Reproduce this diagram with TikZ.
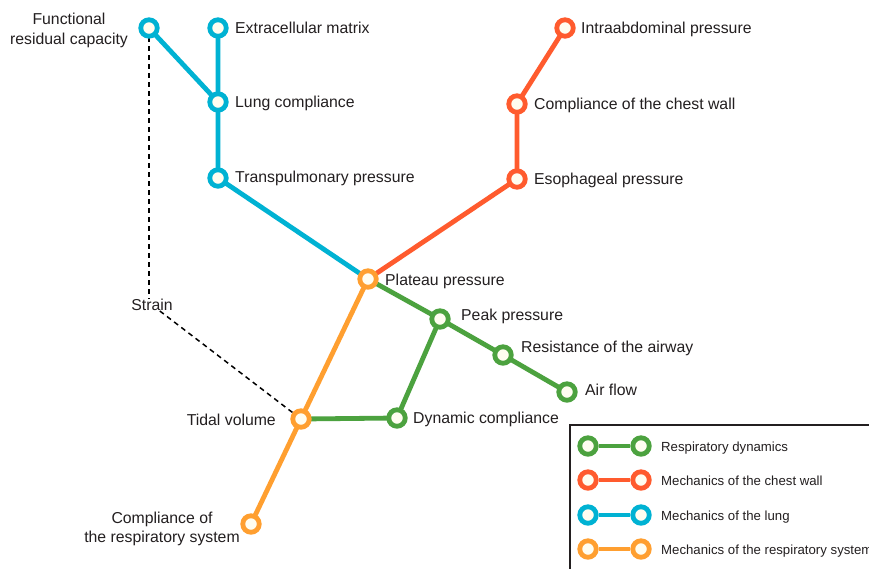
\documentclass[tikz,border=0pt]{standalone}
\usepackage{fontspec}
\setmainfont{Liberation Sans}
\usetikzlibrary{backgrounds}
\definecolor{cgreen}{HTML}{4CA23F}
\definecolor{cred}{HTML}{FF5B2E}
\definecolor{cblue}{HTML}{00B2D3}
\definecolor{corange}{HTML}{FF9F30}
\definecolor{cream}{HTML}{FFFDF0}
\definecolor{ink}{HTML}{231F20}
\begin{document}
\begin{tikzpicture}[x=1pt,y=-1pt,
  station/.style={circle,draw=#1,line width=4.8pt,fill=cream,minimum size=16.5pt,inner sep=0pt},
  route/.style={draw=#1,line width=4.8pt},
  lbl/.style={font=\fontsize{15.8}{19.5}\selectfont,text=ink,inner sep=0pt},
  lblr/.style={lbl,anchor=base west},
  leg/.style={font=\fontsize{13.2}{16}\selectfont,text=ink,inner sep=0pt,anchor=base west},
  link/.style={draw=black,line width=1.5pt,dash pattern=on 5pt off 4pt}]
\path[use as bounding box] (0,0) rectangle (869,568);
\clip (0,0) rectangle (869,568);

% stations
\node[station=cblue] (frc) at (149,28) {};
\node[station=cblue] (ecm) at (218,28) {};
\node[station=cblue] (lc) at (218,102) {};
\node[station=cblue] (tp) at (218,178) {};
\node[station=corange] (pp) at (368,279) {};
\node[station=cred] (iap) at (565,28) {};
\node[station=cred] (ccw) at (517,104) {};
\node[station=cred] (ep) at (517,179) {};
\node[station=cgreen] (pk) at (440,319) {};
\node[station=cgreen] (raw) at (503,355) {};
\node[station=cgreen] (af) at (567,392) {};
\node[station=cgreen] (dc) at (397,418) {};
\node[station=corange] (tv) at (301,419) {};
\node[station=corange] (crs) at (251,524) {};

% labels
\node[lbl,align=center] (frcl) at (69,30.5) {Functional\\residual capacity};
\node[lblr] (ecml) at (235,33) {Extracellular matrix};
\node[lblr] (lcl) at (235,107) {Lung compliance};
\node[lblr] (tpl) at (235,182) {Transpulmonary pressure};
\node[lblr] (ppl) at (385,285) {Plateau pressure};
\node[lblr] (iapl) at (581,33) {Intraabdominal pressure};
\node[lblr] (ccwl) at (534,109) {Compliance of the chest wall};
\node[lblr] (epl) at (534,184) {Esophageal pressure};
\node[lblr] (pkl) at (461,320) {Peak pressure};
\node[lblr] (rawl) at (521,352) {Resistance of the airway};
\node[lblr] (afl) at (585,395) {Air flow};
\node[lblr] (dcl) at (413,423) {Dynamic compliance};
\node[lbl,anchor=base east] (tvl) at (276,425) {Tidal volume};
\node[lbl,align=center] (crsl) at (162,529) {Compliance of\\the respiratory system};
\node[lbl] (strain) at (152,305) {Strain};

% legend
\draw[draw=ink,line width=1.3pt,fill=white] (570,425) rectangle (900,600);
\node[station=cgreen] (g1) at (588,446) {};
\node[station=cgreen] (g2) at (641,446) {};
\node[station=cred] (r1) at (588,480) {};
\node[station=cred] (r2) at (641,480) {};
\node[station=cblue] (b1) at (588,515) {};
\node[station=cblue] (b2) at (641,515) {};
\node[station=corange] (o1) at (588,549) {};
\node[station=corange] (o2) at (641,549) {};
\node[leg] (lg1) at (661,451) {Respiratory dynamics};
\node[leg] (lg2) at (661,485) {Mechanics of the chest wall};
\node[leg] (lg3) at (661,520) {Mechanics of the lung};
\node[leg] (lg4) at (661,554) {Mechanics of the respiratory system};

\begin{scope}[on background layer]
  \fill[white] (0,0) rectangle (869,568);
  \draw[link] (frc.center) -- (frc.center |- strain.north);
  \draw[link] (strain) -- (tv.center);
  % blue
  \draw[route=cblue] (frc.center) -- (lc.center);
  \draw[route=cblue] (ecm.center) -- (lc.center) -- (tp.center) -- (pp.center);
  % red
  \draw[route=cred] (iap.center) -- (ccw.center) -- (ep.center) -- (pp.center);
  % green
  \draw[route=cgreen] (pp.center) -- (pk.center) -- (raw.center) -- (af.center);
  \draw[route=cgreen] (pk.center) -- (dc.center) -- (tv.center);
  % orange
  \draw[route=corange] (pp.center) -- (tv.center) -- (crs.center);
\end{scope}
\draw[route=cgreen] (g1) -- (g2);
\draw[route=cred] (r1) -- (r2);
\draw[route=cblue] (b1) -- (b2);
\draw[route=corange] (o1) -- (o2);
\end{tikzpicture}
\end{document}
